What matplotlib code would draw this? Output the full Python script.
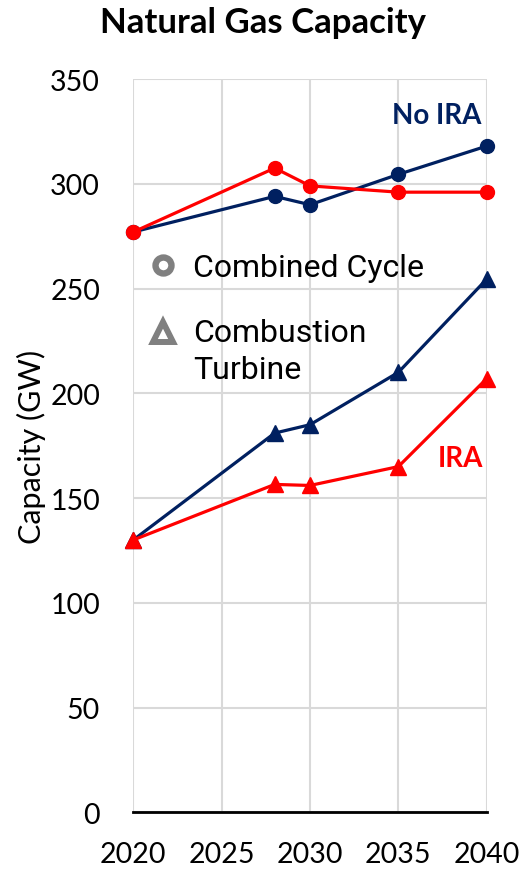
import matplotlib
matplotlib.use("Agg")
import matplotlib.pyplot as plt

# capacity in GW
years = [2020, 2028, 2030, 2035, 2040]
cc_no_ira = [277, 294, 290, 304.5, 318]
cc_ira = [277, 307.5, 299, 296, 296]
ct_no_ira = [130, 181, 185, 210, 254.5]
ct_ira = [130, 156.5, 156, 165, 207]

x_ticks = [2020, 2025, 2030, 2035, 2040]
y_ticks = [0, 50, 100, 150, 200, 250, 300, 350]

navy = '#002060'
red = '#FF0000'
grey = '#808080'

plt.rcParams['font.family'] = ['Lato', 'DejaVu Sans']

fig = plt.figure(figsize=(5.26, 8.7), dpi=100)
ax = fig.add_axes([0.2535, 0.0652, 0.6718, 0.8428])

# combined cycle
ax.plot(years, cc_no_ira, color=navy, lw=2.3, marker='o', ms=10, clip_on=False, zorder=3)
ax.plot(years, cc_ira, color=red, lw=2.3, marker='o', ms=10, clip_on=False, zorder=4)
# combustion turbine
ax.plot(years, ct_no_ira, color=navy, lw=2.3, marker='^', ms=12, clip_on=False, zorder=3)
ax.plot(years, ct_ira, color=red, lw=2.3, marker='^', ms=12, clip_on=False, zorder=4)

ax.set_xlim(2020, 2040)
ax.set_ylim(0, 350)
ax.set_xticks(x_ticks)
ax.set_yticks(y_ticks)
ax.tick_params(axis='both', length=0, labelsize=20.5, colors='black')
ax.tick_params(axis='y', pad=24)
ax.tick_params(axis='x', pad=21)
ax.grid(True, color='#d9d9d9', lw=1.5)
ax.set_axisbelow(True)
for side in ['top', 'right', 'left']:
    ax.spines[side].set_visible(False)
ax.spines['bottom'].set_color('black')
ax.spines['bottom'].set_linewidth(2)
ax.spines['bottom'].set_zorder(2)

ax.set_ylabel('Capacity (GW)', fontsize=22)
ax.yaxis.set_label_coords(-0.248, 0.5)
fig.text(0.5, 0.973, 'Natural Gas Capacity', ha='center', va='center',
         fontsize=25, fontweight='bold')

ax.text(2037.15, 333, 'No IRA', color=navy, fontsize=20, fontweight='bold',
        ha='center', va='center')
ax.text(2038.5, 169, 'IRA', color=red, fontsize=20, fontweight='bold',
        ha='center', va='center')

# marker key, drawn by hand so the triangle sits on the first text line
ax.plot([0.084], [0.746], transform=ax.transAxes, ls='none', marker='o', ms=11.5,
        mfc='white', mec=grey, mew=4.6, clip_on=False, zorder=5)
ax.plot([0.084], [0.655], transform=ax.transAxes, ls='none', marker='^', ms=14.5,
        mfc='white', mec=grey, mew=4.3, clip_on=False, zorder=5)
key_font = dict(family='Roboto', size=23, color='black', transform=ax.transAxes,
                ha='left', va='baseline', zorder=5)
ax.text(0.169, 0.7318, 'Combined Cycle', **key_font)
ax.text(0.169, 0.643, 'Combustion', **key_font)
ax.text(0.169, 0.592, 'Turbine', **key_font)

fig.savefig('out.png', dpi=100)
